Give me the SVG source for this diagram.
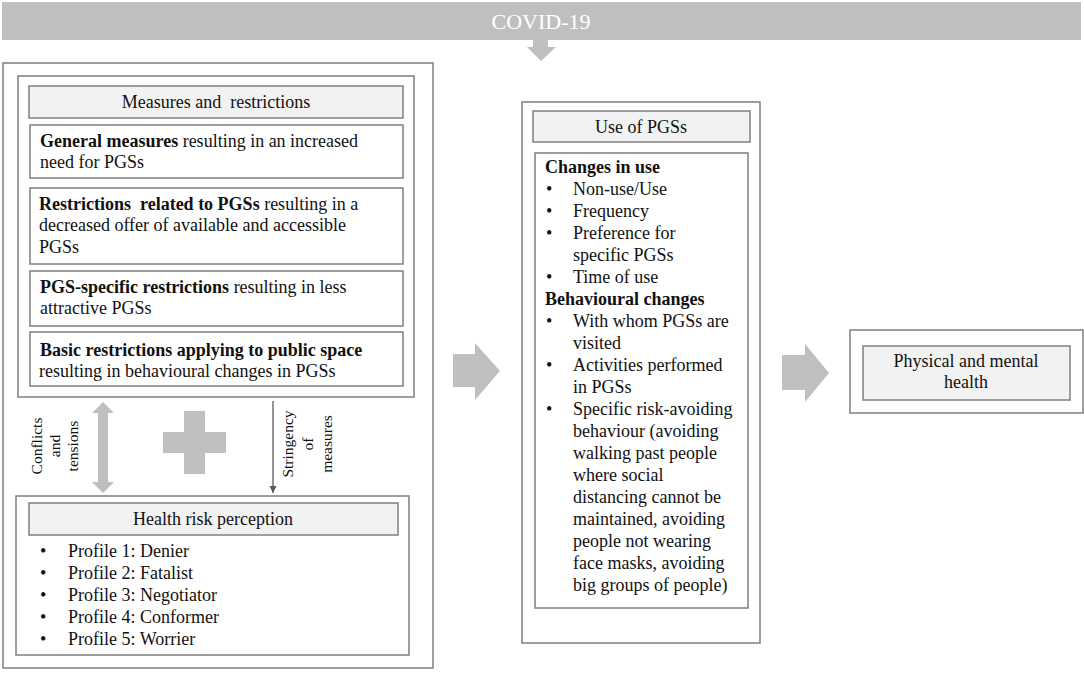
<svg xmlns="http://www.w3.org/2000/svg" width="1084" height="673" viewBox="0 0 1084 673">
<defs>
<style>
text{font-family:"Liberation Serif","Times New Roman",serif;font-size:18px;fill:#111}
.b{font-weight:bold}
.box{fill:#fff;stroke:#7f7f7f;stroke-width:1.5}
.hdr{fill:#f2f2f2;stroke:#7f7f7f;stroke-width:1.5}
.big{fill:#bfbfbf;stroke:none}
.c{text-anchor:middle}
.rot{font-size:15.5px;text-anchor:middle}
</style>
<marker id="ah" viewBox="0 0 10 10" refX="10" refY="5" markerWidth="7" markerHeight="9" markerUnits="userSpaceOnUse" orient="auto">
<path d="M0,0 L10,5 L0,10 Z" fill="#595959"/>
</marker>
</defs>
<rect width="1084" height="673" fill="#fff"/>

<g id="covid">
<rect x="2" y="2" width="1079" height="38" fill="#bfbfbf"/>
<text x="541" y="29" class="c" style="fill:#fff;font-size:22px">COVID-19</text>
</g>

<g id="left-panel">
<rect class="box" x="3" y="63" width="430" height="605"/>
</g>

<g id="measures">
<rect class="box" x="18" y="76" width="396" height="321"/>
<rect class="hdr" x="29" y="86" width="374" height="32"/>
<text x="216" y="108" class="c">Measures and&#160; restrictions</text>
<rect class="box" x="30" y="125" width="373" height="53"/>
<text x="40" y="147"><tspan class="b">General measures</tspan> resulting in an increased</text>
<text x="40" y="168">need for PGSs</text>
<rect class="box" x="30" y="188" width="373" height="76"/>
<text x="39" y="210"><tspan class="b">Restrictions&#160; related to PGSs</tspan> resulting in a</text>
<text x="39" y="231">decreased offer of available and accessible</text>
<text x="39" y="253">PGSs</text>
<rect class="box" x="30" y="271" width="373" height="55"/>
<text x="40" y="293"><tspan class="b">PGS-specific restrictions</tspan> resulting in less</text>
<text x="40" y="314">attractive PGSs</text>
<rect class="box" x="30" y="332" width="373" height="54"/>
<text x="40" y="356" class="b">Basic restrictions applying to public space</text>
<text x="39" y="377">resulting in behavioural changes in PGSs</text>
</g>

<g id="health-risk">
<rect class="box" x="16" y="496" width="393" height="159"/>
<rect class="hdr" x="29" y="503" width="369" height="32"/>
<text x="213" y="525" class="c">Health risk perception</text>
<text x="40" y="557">•</text><text x="68" y="557">Profile 1: Denier</text>
<text x="40" y="579">•</text><text x="68" y="579">Profile 2: Fatalist</text>
<text x="40" y="601">•</text><text x="68" y="601">Profile 3: Negotiator</text>
<text x="40" y="623">•</text><text x="68" y="623">Profile 4: Conformer</text>
<text x="40" y="645">•</text><text x="68" y="645">Profile 5: Worrier</text>
</g>

<g id="use-of-pgss">
<rect class="box" x="522" y="102" width="238" height="541"/>
<rect class="hdr" x="533" y="111" width="217" height="31"/>
<text x="641" y="133" class="c">Use of PGSs</text>
<rect class="box" x="535" y="153" width="213" height="455"/>
<text x="545" y="173" class="b">Changes in use</text>
<text x="546" y="195">•</text><text x="573" y="195">Non-use/Use</text>
<text x="546" y="217">•</text><text x="573" y="217">Frequency</text>
<text x="546" y="239">•</text><text x="573" y="239">Preference for</text>
<text x="573" y="261">specific PGSs</text>
<text x="546" y="283">•</text><text x="573" y="283">Time of use</text>
<text x="545" y="305" class="b">Behavioural changes</text>
<text x="546" y="327">•</text><text x="573" y="327">With whom PGSs are</text>
<text x="573" y="349">visited</text>
<text x="546" y="371">•</text><text x="573" y="371">Activities performed</text>
<text x="573" y="393">in PGSs</text>
<text x="546" y="415">•</text><text x="573" y="415">Specific risk-avoiding</text>
<text x="573" y="437">behaviour (avoiding</text>
<text x="573" y="459">walking past people</text>
<text x="573" y="481">where social</text>
<text x="573" y="503">distancing cannot be</text>
<text x="573" y="525">maintained, avoiding</text>
<text x="573" y="547">people not wearing</text>
<text x="573" y="569">face masks, avoiding</text>
<text x="573" y="591">big groups of people)</text>
</g>

<g id="health">
<rect class="box" x="850" y="330" width="233" height="83"/>
<rect class="hdr" x="863" y="346" width="207" height="54"/>
<text x="966" y="367" class="c">Physical and mental</text>
<text x="966" y="388" class="c">health</text>
</g>

<g id="connectors">
<polygon class="big" points="533,40 548,40 548,47 556,47 541,61 527,47 533,47"/>
<polygon class="big" points="453,354 475,354 475,343 500,371 475,400 475,387 453,387"/>
<polygon class="big" points="782,355 805,355 805,344 829,373 805,402 805,390 782,390"/>
<polygon class="big" points="103,402 114,413 108,413 108,482 114,482 103,493 92,482 98,482 98,413 92,413"/>
<polygon class="big" points="184,411 205,411 205,432 226,432 226,453 205,453 205,474 184,474 184,453 163,453 163,432 184,432"/>
<line x1="273" y1="401" x2="273" y2="493" stroke="#595959" stroke-width="1.3" marker-end="url(#ah)"/>
<text class="rot" transform="translate(42,446) rotate(-90)">Conflicts</text>
<text class="rot" transform="translate(60,446) rotate(-90)">and</text>
<text class="rot" transform="translate(78,446) rotate(-90)">tensions</text>
<text class="rot" transform="translate(293,444) rotate(-90)">Stringency</text>
<text class="rot" transform="translate(313,444) rotate(-90)">of</text>
<text class="rot" transform="translate(332,444) rotate(-90)">measures</text>
</g>
</svg>
